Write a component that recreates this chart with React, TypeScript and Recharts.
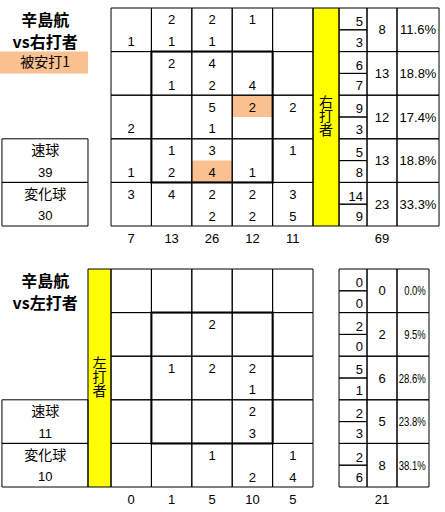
import React from 'react';
import { ScatterChart, Scatter, XAxis, YAxis, ReferenceArea } from 'recharts';

type Cell = number | null;

const pitcherName = '辛島航';
const hitLabel = '被安打1';
const fastLabel = '速球';
const breakLabel = '変化球';

// vs 右打者 : upper number in a cell = 速球, lower = 変化球
const rightFast: Cell[][] = [
  [null, 2, 2, 1, null],
  [null, 2, 4, null, null],
  [null, null, 5, 2, 2],
  [null, 1, 3, null, 1],
  [3, 4, 2, 2, 3],
];
const rightBreak: Cell[][] = [
  [1, 1, 1, null, null],
  [null, 1, 2, 4, null],
  [2, null, 1, null, null],
  [1, 2, 4, 1, null],
  [null, null, 2, 2, 5],
];
const rightColTotals = [7, 13, 26, 12, 11];
const rightRowFast = [5, 6, 9, 5, 14];
const rightRowBreak = [3, 7, 3, 8, 9];
const rightRowTotals = [8, 13, 12, 13, 23];
const rightRowPct = ['11.6%', '18.8%', '17.4%', '18.8%', '33.3%'];
const rightTotal = 69;
const rightFastTotal = 39;
const rightBreakTotal = 30;
const rightHits = [
  { row: 2, col: 3, half: 0 },
  { row: 3, col: 2, half: 1 },
];

// vs 左打者
const leftFast: Cell[][] = [
  [null, null, null, null, null],
  [null, null, 2, null, null],
  [null, 1, 2, 2, null],
  [null, null, null, 2, null],
  [null, null, 1, null, 1],
];
const leftBreak: Cell[][] = [
  [null, null, null, null, null],
  [null, null, null, null, null],
  [null, null, null, 1, null],
  [null, null, null, 3, null],
  [null, null, null, 2, 4],
];
const leftColTotals = [0, 1, 5, 10, 5];
const leftRowFast = [0, 2, 5, 2, 2];
const leftRowBreak = [0, 0, 1, 3, 6];
const leftRowTotals = [0, 2, 6, 5, 8];
const leftRowPct = ['0.0%', '9.5%', '28.6%', '23.8%', '38.1%'];
const leftTotal = 21;
const leftFastTotal = 11;
const leftBreakTotal = 10;

const NUM_FONT = '"Liberation Sans", "Noto Sans CJK JP", sans-serif';
const JP_FONT = '"Noto Sans CJK JP", sans-serif';
const ORANGE = '#FAC090';

// layout in grid-column units (0 = left edge of the zone grid)
const X_MIN = -2.748;
const X_MAX = 8.267;
const SPLIT = [5.644, 6.337];
const TOTAL = [6.337, 7.079];
const LEFT_BOX = [-2.7, -0.57];
const TITLE_X = -1.63;

type Txt = { x: number; y: number; t: string | number };

const textShape =
  (size: number, anchor: string, family = NUM_FONT, weight = 400, squeeze = 0) =>
  (p: any) => {
    const t = String(p.payload.t);
    const fit = squeeze > 0 ? { textLength: t.length * squeeze, lengthAdjust: 'spacingAndGlyphs' } : {};
    return (
      <text
        x={p.cx}
        y={p.cy}
        dy="0.36em"
        textAnchor={anchor}
        fontSize={size}
        fontWeight={weight}
        fontFamily={family}
        fill="#000"
        {...fit}
      >
        {t}
      </text>
    );
  };

// 右打者 / 左打者 written top to bottom inside the yellow bar
const verticalShape = (p: any) => (
  <text
    x={p.cx}
    y={p.cy}
    textAnchor="middle"
    fontSize={14}
    fontFamily={JP_FONT}
    fill="#000"
    style={{ writingMode: 'vertical-rl' }}
  >
    {p.payload.t}
  </text>
);

interface SectionProps {
  top: number;
  marginTop: number;
  axisHeight: number;
  titleLine: string;
  side: string;
  barX: number[];
  pctEnd: number;
  pctAlign: 'middle' | 'end';
  fast: Cell[][];
  brk: Cell[][];
  colTotals: number[];
  rowFast: number[];
  rowBreak: number[];
  rowTotals: number[];
  rowPct: string[];
  total: number;
  fastTotal: number;
  breakTotal: number;
  hits: { row: number; col: number; half: number }[];
  showHits: boolean;
}

const Section = (s: SectionProps) => {
  const rows = s.fast.map((_, r) => r);
  const cols = s.fast[0].map((_, c) => c);

  const cellTexts: Txt[] = [];
  s.fast.forEach((row, r) =>
    row.forEach((v, c) => {
      if (v !== null) cellTexts.push({ x: c + 0.5, y: r + 0.27, t: v });
    })
  );
  s.brk.forEach((row, r) =>
    row.forEach((v, c) => {
      if (v !== null) cellTexts.push({ x: c + 0.5, y: r + 0.77, t: v });
    })
  );

  const splitTexts: Txt[] = [
    ...s.rowFast.map((v, r) => ({ x: SPLIT[1] - 0.1, y: r + 0.31, t: v })),
    ...s.rowBreak.map((v, r) => ({ x: SPLIT[1] - 0.1, y: r + 0.78, t: v })),
  ];
  const totalTexts: Txt[] = s.rowTotals.map((v, r) => ({ x: (TOTAL[0] + TOTAL[1]) / 2, y: r + 0.5, t: v }));
  const pctX = s.pctAlign === 'middle' ? (TOTAL[1] + s.pctEnd) / 2 : s.pctEnd - 0.08;
  const pctTexts: Txt[] = s.rowPct.map((v, r) => ({ x: pctX, y: r + 0.5, t: v }));

  const titleTexts: Txt[] = [
    { x: TITLE_X, y: 0.275, t: pitcherName },
    { x: TITLE_X, y: 0.78, t: s.titleLine },
  ];
  const boxTexts: Txt[] = [
    { x: TITLE_X, y: 3.26, t: fastLabel },
    { x: TITLE_X, y: 4.26, t: breakLabel },
  ];
  const boxNums: Txt[] = [
    { x: TITLE_X, y: 3.76, t: s.fastTotal },
    { x: TITLE_X, y: 4.76, t: s.breakTotal },
  ];
  if (s.showHits) boxTexts.push({ x: TITLE_X, y: 1.24, t: hitLabel });

  const barText: Txt[] = [{ x: (s.barX[0] + s.barX[1]) / 2, y: 2.48, t: s.side }];

  const totalX = (TOTAL[0] + TOTAL[1]) / 2;
  const ticks = [...cols.map((c) => c + 0.5), totalX];
  const tickLabels = [...s.colTotals, s.total];

  const plotH = 218;
  const height = s.marginTop + plotH + s.axisHeight;

  return (
    <div style={{ position: 'absolute', left: 0, top: s.top }}>
      <ScatterChart width={445} height={height} margin={{ top: s.marginTop, right: 0, bottom: 0, left: 0 }}>
        <XAxis
          type="number"
          dataKey="x"
          domain={[X_MIN, X_MAX]}
          ticks={ticks}
          interval={0}
          tickFormatter={(_v: number, i: number) => String(tickLabels[i])}
          axisLine={false}
          tickLine={false}
          height={s.axisHeight}
          tick={{ fill: '#000', fontSize: 13, fontFamily: NUM_FONT }}
          allowDataOverflow
        />
        <YAxis type="number" dataKey="y" domain={[0, 5]} reversed hide allowDataOverflow />

        {s.showHits && (
          <ReferenceArea x1={X_MIN} x2={LEFT_BOX[1]} y1={1} y2={1.5} fill={ORANGE} fillOpacity={1} stroke="none" />
        )}
        {s.hits.map((h, i) => (
          <ReferenceArea
            key={`hit${i}`}
            x1={h.col}
            x2={h.col + 1}
            y1={h.row + h.half * 0.5}
            y2={h.row + h.half * 0.5 + 0.5}
            fill={ORANGE}
            fillOpacity={1}
            stroke="none"
          />
        ))}
        <ReferenceArea x1={s.barX[0]} x2={s.barX[1]} y1={0} y2={5} fill="#FFFF00" fillOpacity={1} stroke="#000" />

        {rows.map((r) =>
          cols.map((c) => (
            <ReferenceArea key={`c${r}-${c}`} x1={c} x2={c + 1} y1={r} y2={r + 1} fill="none" stroke="#000" />
          ))
        )}
        {rows.map((r) => (
          <React.Fragment key={`t${r}`}>
            <ReferenceArea x1={SPLIT[0]} x2={SPLIT[1]} y1={r} y2={r + 0.5} fill="none" stroke="#000" />
            <ReferenceArea x1={SPLIT[0]} x2={SPLIT[1]} y1={r + 0.5} y2={r + 1} fill="none" stroke="#000" />
            <ReferenceArea x1={TOTAL[0]} x2={TOTAL[1]} y1={r} y2={r + 1} fill="none" stroke="#000" />
            <ReferenceArea x1={TOTAL[1]} x2={s.pctEnd} y1={r} y2={r + 1} fill="none" stroke="#000" />
          </React.Fragment>
        ))}
        <ReferenceArea x1={LEFT_BOX[0]} x2={LEFT_BOX[1]} y1={3} y2={4} fill="none" stroke="#000" />
        <ReferenceArea x1={LEFT_BOX[0]} x2={LEFT_BOX[1]} y1={4} y2={5} fill="none" stroke="#000" />
        <ReferenceArea x1={1} x2={4} y1={1} y2={4} fill="none" stroke="#000" strokeWidth={2} />

        <Scatter data={cellTexts} shape={textShape(13, 'middle')} isAnimationActive={false} />
        <Scatter data={splitTexts} shape={textShape(13, 'end')} isAnimationActive={false} />
        <Scatter data={totalTexts} shape={textShape(13, 'middle')} isAnimationActive={false} />
        <Scatter
          data={pctTexts}
          shape={s.pctAlign === 'end' ? textShape(13, 'end', NUM_FONT, 400, 5.4) : textShape(13, 'middle')}
          isAnimationActive={false}
        />
        <Scatter data={titleTexts} shape={textShape(16, 'middle', JP_FONT, 700)} isAnimationActive={false} />
        <Scatter data={boxTexts} shape={textShape(14, 'middle', JP_FONT)} isAnimationActive={false} />
        <Scatter data={boxNums} shape={textShape(13, 'middle')} isAnimationActive={false} />
        <Scatter data={barText} shape={verticalShape} isAnimationActive={false} />
      </ScatterChart>
    </div>
  );
};

export default function App() {
  return (
    <div style={{ position: 'absolute', left: 0, top: 0, width: 445, height: 512, background: '#fff' }}>
      <Section
        top={0}
        marginTop={8}
        axisHeight={24}
        titleLine="vs右打者"
        side="右打者"
        barX={[5, SPLIT[0]]}
        pctEnd={8.119}
        pctAlign="middle"
        fast={rightFast}
        brk={rightBreak}
        colTotals={rightColTotals}
        rowFast={rightRowFast}
        rowBreak={rightRowBreak}
        rowTotals={rightRowTotals}
        rowPct={rightRowPct}
        total={rightTotal}
        fastTotal={rightFastTotal}
        breakTotal={rightBreakTotal}
        hits={rightHits}
        showHits
      />
      <Section
        top={255}
        marginTop={14}
        axisHeight={25}
        titleLine="vs左打者"
        side="左打者"
        barX={[LEFT_BOX[1], 0]}
        pctEnd={7.871}
        pctAlign="end"
        fast={leftFast}
        brk={leftBreak}
        colTotals={leftColTotals}
        rowFast={leftRowFast}
        rowBreak={leftRowBreak}
        rowTotals={leftRowTotals}
        rowPct={leftRowPct}
        total={leftTotal}
        fastTotal={leftFastTotal}
        breakTotal={leftBreakTotal}
        hits={[]}
        showHits={false}
      />
    </div>
  );
}
